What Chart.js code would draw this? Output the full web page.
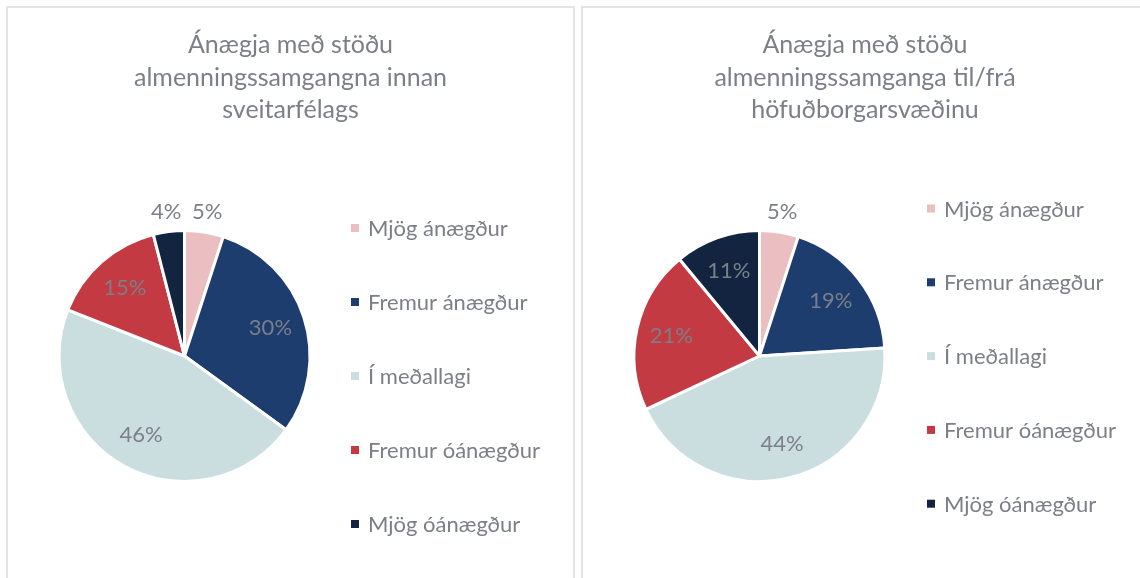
<!DOCTYPE html>
<html>
<head>
<meta charset="utf-8">
<script src="https://cdn.jsdelivr.net/npm/chart.js@4"></script>
<style>
	body { margin: 0; background: #fff; width: 1140px; height: 578px; overflow: hidden; position: relative; }
	.panel { position: absolute; top: 6px; height: 600px; box-sizing: border-box; border: 2px solid #e4e4e4; }
	canvas { position: absolute; top: 0; }
</style>
</head>
<body>
<div class="panel" style="left:6px;width:569px"></div>
<div class="panel" style="left:581px;width:575px"></div>
<canvas id="innan" width="578" height="578" style="left:0"></canvas>
<canvas id="tilFra" width="562" height="578" style="left:578px"></canvas>
<script>
//<editor-fold defaultstate="collapsed" desc="Gögn">
var categories = ['Mjög ánægður', 'Fremur ánægður', 'Í meðallagi', 'Fremur óánægður', 'Mjög óánægður'];
var innanValues = [5, 30, 46, 15, 4];
var tilFraValues = [5, 19, 44, 21, 11];
var innanTitle = ['Ánægja með stöðu', 'almenningssamgangna innan', 'sveitarfélags'];
var tilFraTitle = ['Ánægja með stöðu', 'almenningssamganga til/frá', 'höfuðborgarsvæðinu'];
var sliceColors = ['#ebbfc1', '#1c3d6e', '#cbdedf', '#c43a42', '#12243f'];
//</editor-fold>

var textColor = '#7c7f88';
var fontFamily = 'Lato, "Open Sans", sans-serif';

// titill, skýringar og prósentur teiknaðar beint á strigann
var textarPlugin = {
	id: 'textar',
	afterDatasetsDraw: function (chart) {
		var ctx = chart.ctx;
		var cfg = chart.options.plugins.textar;
		var meta = chart.getDatasetMeta(0);
		var values = chart.data.datasets[0].data;
		ctx.save();
		ctx.fillStyle = textColor;

		// prósentur
		ctx.font = '22px ' + fontFamily;
		ctx.textAlign = 'center';
		ctx.textBaseline = 'middle';
		meta.data.forEach(function (arc, i) {
			var p = arc.getProps(['x', 'y', 'startAngle', 'endAngle', 'outerRadius'], true);
			var mid = (p.startAngle + p.endAngle) / 2;
			var dist = values[i] < 7 ? p.outerRadius + 20 : p.outerRadius * 0.72;
			ctx.fillText(values[i] + '%', p.x + Math.cos(mid) * dist, p.y + Math.sin(mid) * dist);
		});

		// titill
		ctx.font = '25px ' + fontFamily;
		ctx.textBaseline = 'alphabetic';
		cfg.title.forEach(function (line, i) {
			ctx.fillText(line, cfg.titleX, 53 + i * 32.7);
		});

		// skýringar
		ctx.font = '22px ' + fontFamily;
		ctx.textAlign = 'left';
		ctx.textBaseline = 'middle';
		chart.data.labels.forEach(function (label, i) {
			var y = cfg.legendY + i * cfg.legendStep;
			ctx.fillStyle = sliceColors[i];
			ctx.fillRect(cfg.legendX, y - 4, 8, 8);
			ctx.fillStyle = textColor;
			ctx.fillText(label, cfg.legendX + 17, y + 1);
		});
		ctx.restore();
	}
};

function buaTilKoku(id, values, title, padding, textar) {
	var ctx = document.getElementById(id).getContext('2d');
	return new Chart(ctx, {
		type: 'pie',
		data: {
			labels: categories,
			datasets: [{
				data: values,
				backgroundColor: sliceColors,
				borderColor: '#ffffff',
				borderWidth: 3
			}]
		},
		options: {
			responsive: false,
			animation: false,
			layout: { padding: padding },
			plugins: {
				legend: { display: false },
				title: { display: false },
				tooltip: { enabled: false },
				textar: textar
			}
		},
		plugins: [textarPlugin]
	});
}

buaTilKoku('innan', innanValues, innanTitle,
	{ left: 57.5, top: 229, right: 266.5, bottom: 95 },
	{ title: innanTitle, titleX: 290.5, legendX: 351, legendY: 228, legendStep: 74 });

buaTilKoku('tilFra', tilFraValues, tilFraTitle,
	{ left: 54.5, top: 229, right: 253.5, bottom: 95 },
	{ title: tilFraTitle, titleX: 287, legendX: 349, legendY: 208.5, legendStep: 73.8 });
</script>
</body>
</html>
